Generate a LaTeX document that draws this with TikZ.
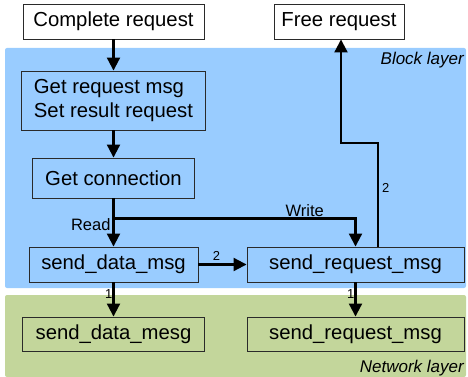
\documentclass[tikz,border=0pt]{standalone}
\usepackage{fontspec}
\setmainfont{Liberation Sans}
\usetikzlibrary{arrows.meta,calc}
\definecolor{blocklayer}{HTML}{99CCFF}
\definecolor{netlayer}{HTML}{C3D69B}
\definecolor{edgegray}{HTML}{2A2A2A}
\tikzset{
  stepbox/.style={draw=edgegray, line width=0.9pt, inner sep=0pt, font=\fontsize{20.3}{23.5}\selectfont},
  flow/.style={line width=2.1pt, -{Triangle[length=13pt,width=13pt]}},
  flowlabel/.style={font=\fontsize{16.5}{19}\selectfont, inner sep=1pt},
  numlabel/.style={font=\fontsize{13}{15}\selectfont, inner sep=1pt},
  layername/.style={font=\itshape\fontsize{17}{20}\selectfont, inner sep=0pt}
}
\begin{document}
\begin{tikzpicture}[x=1pt, y=-1pt]
  \useasboundingbox (0,0) rectangle (468,377);
  % layer backgrounds
  \fill[blocklayer, rounded corners=2pt] (5,48) rectangle (466,288);
  \fill[netlayer, rounded corners=2pt] (5,295) rectangle (466,377);
  \node[layername, anchor=east] (blk) at (464,60) {Block layer};
  \node[layername, anchor=east] (net) at (464,368) {Network layer};

  % boxes
  \node[stepbox, fill=white, minimum width=181pt, minimum height=35pt] (complete) at (113.5,21.5) {Complete request};
  \node[stepbox, fill=white, minimum width=130pt, minimum height=35pt] (free) at (339,21.5) {Free request};
  \node[stepbox, minimum width=184pt, minimum height=59pt, align=left] (getreq) at (113.5,100.5) {Get request msg\\Set result request};
  \node[stepbox, minimum width=162pt, minimum height=40pt] (getconn) at (113.5,178) {Get connection};
  \node[stepbox, minimum width=169pt, minimum height=35pt] (sdata) at (113.5,264.5) {send\_data\_msg};
  \node[stepbox, minimum width=217pt, minimum height=35pt] (sreq) at (355.5,264.5) {send\_request\_msg};
  \node[stepbox, minimum width=182pt, minimum height=34pt] (ndata) at (113.5,334) {send\_data\_mesg};
  \node[stepbox, minimum width=217pt, minimum height=34pt] (nreq) at (355.5,334) {send\_request\_msg};

  % junction points of the routed connectors
  \coordinate (wsplit) at ($(getconn.south)+(0,20)$);
  \coordinate (fstart) at ($(sreq.north)+(22.5,0)$);
  \coordinate (fbend) at ($(fstart)+(0,-104)$);
  \coordinate (fend) at ($(free.south)+(2,0)$);

  % connectors
  \draw[flow] (complete) -- (getreq);
  \draw[flow] (getreq) -- (getconn);
  \draw[flow] (getconn) -- (sdata)
    node[flowlabel, pos=0.55, left, xshift=-1pt] (rd) {Read};
  \draw[flow] (wsplit) -| (sreq.north)
    node[flowlabel, pos=0.395, above] (wr) {Write};
  \draw[flow] (sdata) -- (sreq)
    node[numlabel, midway, above, yshift=2pt, xshift=-6pt] (two) {2};
  \draw[flow] (fstart) -- node[numlabel, pos=0.56, right, xshift=2pt] (twob) {2} (fbend) -| (fend);
  \draw[flow] (sdata) -- (ndata)
    node[numlabel, pos=0.35, left, xshift=1pt] (one) {1};
  \draw[flow] (sreq) -- (nreq)
    node[numlabel, pos=0.35, left, xshift=1pt] (oneb) {1};
\end{tikzpicture}
\end{document}
